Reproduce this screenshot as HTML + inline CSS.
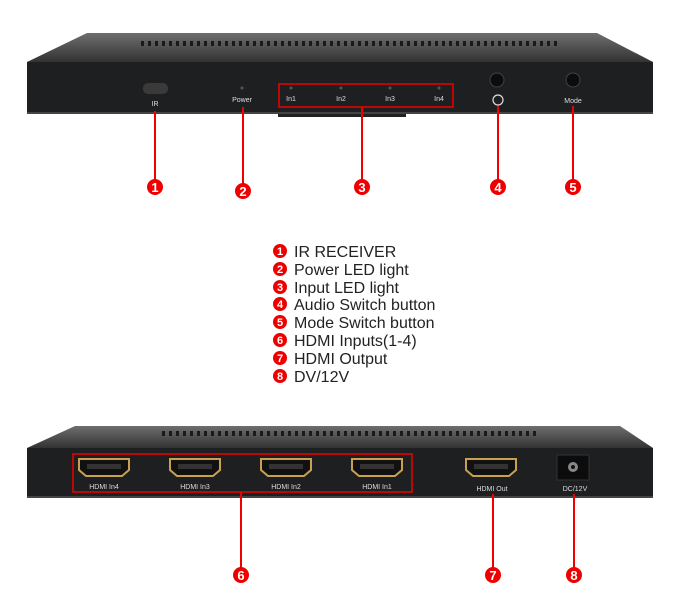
<!DOCTYPE html>
<html><head><meta charset="utf-8"><style>
body{margin:0;background:#fff;}
svg{display:block;}
text{font-family:"Liberation Sans",Arial,sans-serif;}
</style></head><body>
<svg width="680" height="604" viewBox="0 0 680 604" xmlns="http://www.w3.org/2000/svg">
<defs>
<linearGradient id="lid" x1="0" y1="0" x2="0" y2="1"><stop offset="0" stop-color="#6e6e6e"/><stop offset="1" stop-color="#333"/></linearGradient>
<pattern id="vent" width="7" height="30" patternUnits="userSpaceOnUse"><rect x="1" y="0" width="3" height="5" fill="#1a1a1a"/><rect x="1" y="11" width="3" height="5" fill="#1a1a1a"/></pattern>
<g id="port"><path d="M0,0 H50 V11 L43,17 H7 L0,11 Z" fill="#111" stroke="#c8a050" stroke-width="2"/><rect x="8" y="5" width="34" height="5" fill="#333"/></g>
</defs>
<!-- top device -->
<polygon points="87,33 597,33 653,62 27,62" fill="url(#lid)"/>
<rect x="140" y="41" width="420" height="18" fill="url(#vent)"/>
<rect x="27" y="62" width="626" height="52" fill="#1e1f21"/>
<rect x="27" y="112" width="626" height="2" fill="#444"/>
<rect x="278" y="114" width="128" height="3" fill="#222"/>
<rect x="143" y="83" width="25" height="11" rx="5" fill="#3a3a3a"/>
<text x="155" y="106" font-size="7" fill="#ddd" text-anchor="middle">IR</text>
<circle cx="242" cy="88" r="1.5" fill="#555"/>
<text x="242" y="102" font-size="7" fill="#ddd" text-anchor="middle">Power</text>
<g fill="#555"><circle cx="291" cy="88" r="1.5"/><circle cx="341" cy="88" r="1.5"/><circle cx="390" cy="88" r="1.5"/><circle cx="439" cy="88" r="1.5"/></g>
<g font-size="7" fill="#ddd" text-anchor="middle"><text x="291" y="101">In1</text><text x="341" y="101">In2</text><text x="390" y="101">In3</text><text x="439" y="101">In4</text></g>
<rect x="279" y="84" width="174" height="23" fill="none" stroke="#e00" stroke-width="1.5"/>
<circle cx="497" cy="80" r="7" fill="#0c0c0c" stroke="#444"/>
<circle cx="498" cy="100" r="5" fill="none" stroke="#ddd" stroke-width="1.2"/>
<circle cx="573" cy="80" r="7" fill="#0c0c0c" stroke="#444"/>
<text x="573" y="103" font-size="7" fill="#ddd" text-anchor="middle">Mode</text>
<g stroke="#e00" stroke-width="2"><line x1="155" y1="111" x2="155" y2="180"/><line x1="243" y1="107" x2="243" y2="184"/><line x1="362" y1="107" x2="362" y2="180"/><line x1="498" y1="106" x2="498" y2="180"/><line x1="573" y1="106" x2="573" y2="180"/></g>
<g fill="#e00"><circle cx="155" cy="187" r="8"/><circle cx="243" cy="191" r="8"/><circle cx="362" cy="187" r="8"/><circle cx="498" cy="187" r="8"/><circle cx="573" cy="187" r="8"/></g>
<g font-size="13" font-weight="bold" fill="#fff" text-anchor="middle"><text x="155" y="192">1</text><text x="243" y="196">2</text><text x="362" y="192">3</text><text x="498" y="192">4</text><text x="573" y="192">5</text></g>
<!-- legend -->
<g fill="#e00"><circle cx="280" cy="251" r="7"/><circle cx="280" cy="269" r="7"/><circle cx="280" cy="287" r="7"/><circle cx="280" cy="304" r="7"/><circle cx="280" cy="322" r="7"/><circle cx="280" cy="340" r="7"/><circle cx="280" cy="358" r="7"/><circle cx="280" cy="376" r="7"/></g>
<g font-size="11" font-weight="bold" fill="#fff" text-anchor="middle"><text x="280" y="255">1</text><text x="280" y="273">2</text><text x="280" y="291">3</text><text x="280" y="308">4</text><text x="280" y="326">5</text><text x="280" y="344">6</text><text x="280" y="362">7</text><text x="280" y="380">8</text></g>
<g font-size="16" fill="#222"><text x="294" y="257">IR RECEIVER</text><text x="294" y="275">Power LED light</text><text x="294" y="293">Input LED light</text><text x="294" y="310">Audio Switch button</text><text x="294" y="328">Mode Switch button</text><text x="294" y="346">HDMI Inputs(1-4)</text><text x="294" y="364">HDMI Output</text><text x="294" y="382">DV/12V</text></g>
<!-- bottom device -->
<polygon points="75,426 620,426 653,448 27,448" fill="url(#lid)"/>
<rect x="160" y="430" width="380" height="16" fill="url(#vent)"/>
<rect x="27" y="448" width="626" height="50" fill="#1e1f21"/>
<rect x="27" y="496" width="626" height="2" fill="#444"/>
<use href="#port" x="79" y="459"/><use href="#port" x="170" y="459"/><use href="#port" x="261" y="459"/><use href="#port" x="352" y="459"/><use href="#port" x="466" y="459"/>
<g font-size="7" fill="#ddd" text-anchor="middle"><text x="104" y="489">HDMI In4</text><text x="195" y="489">HDMI In3</text><text x="286" y="489">HDMI In2</text><text x="377" y="489">HDMI In1</text><text x="492" y="491">HDMI Out</text><text x="575" y="491">DC/12V</text></g>
<rect x="73" y="454" width="339" height="38" fill="none" stroke="#e00" stroke-width="1.5"/>
<rect x="557" y="455" width="32" height="25" fill="#0c0c0c" stroke="#333"/>
<circle cx="573" cy="467" r="5" fill="#888"/><circle cx="573" cy="467" r="2" fill="#111"/>
<g stroke="#e00" stroke-width="2"><line x1="241" y1="492" x2="241" y2="568"/><line x1="493" y1="494" x2="493" y2="568"/><line x1="574" y1="494" x2="574" y2="568"/></g>
<g fill="#e00"><circle cx="241" cy="575" r="8"/><circle cx="493" cy="575" r="8"/><circle cx="574" cy="575" r="8"/></g>
<g font-size="13" font-weight="bold" fill="#fff" text-anchor="middle"><text x="241" y="580">6</text><text x="493" y="580">7</text><text x="574" y="580">8</text></g>
</svg>
</body></html>
